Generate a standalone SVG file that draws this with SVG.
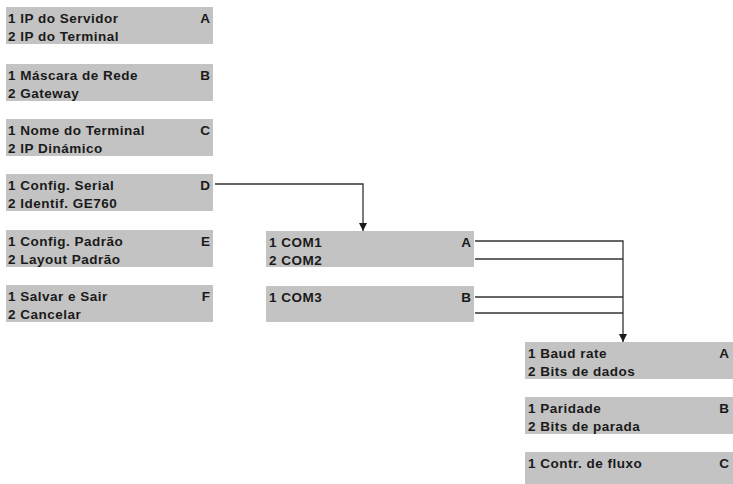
<svg xmlns="http://www.w3.org/2000/svg" width="733" height="484" viewBox="0 0 733 484">
<defs>
<style>
.box{fill:#c3c3c3}
.t{font-family:"Liberation Sans",Arial,sans-serif;font-weight:bold;font-size:13.5px;letter-spacing:0.5px;fill:#1a1a1a}
.k{font-family:"Liberation Sans",Arial,sans-serif;font-weight:bold;font-size:13.5px;fill:#1a1a1a;text-anchor:end}
.c{fill:none;stroke:#333;stroke-width:1.3}
</style>
<marker id="ah" viewBox="0 0 10 10" refX="10" refY="5" markerWidth="8" markerHeight="8" markerUnits="userSpaceOnUse" orient="auto">
<path d="M0,0 L10,5 L0,10 z" fill="#1a1a1a"/>
</marker>
</defs>
<rect width="733" height="484" fill="#fff"/>
<g id="menuA"><rect class="box" x="6" y="7" width="207" height="37"/><text class="t" x="8" y="23">1 IP do Servidor</text><text class="t" x="8" y="41">2 IP do Terminal</text><text class="k" x="210" y="23">A</text></g>
<g id="menuB"><rect class="box" x="6" y="64" width="207" height="37"/><text class="t" x="8" y="80">1 Máscara de Rede</text><text class="t" x="8" y="98">2 Gateway</text><text class="k" x="210" y="80">B</text></g>
<g id="menuC"><rect class="box" x="6" y="119" width="207" height="37"/><text class="t" x="8" y="135">1 Nome do Terminal</text><text class="t" x="8" y="153">2 IP Dinámico</text><text class="k" x="210" y="135">C</text></g>
<g id="menuD"><rect class="box" x="6" y="174" width="207" height="37"/><text class="t" x="8" y="190">1 Config. Serial</text><text class="t" x="8" y="208">2 Identif. GE760</text><text class="k" x="210" y="190">D</text></g>
<g id="menuE"><rect class="box" x="6" y="230" width="207" height="37"/><text class="t" x="8" y="246">1 Config. Padrão</text><text class="t" x="8" y="264">2 Layout Padrão</text><text class="k" x="210" y="246">E</text></g>
<g id="menuF"><rect class="box" x="6" y="285" width="207" height="37"/><text class="t" x="8" y="301">1 Salvar e Sair</text><text class="t" x="8" y="319">2 Cancelar</text><text class="k" x="210" y="301">F</text></g>
<g id="comA"><rect class="box" x="266" y="231" width="208" height="36"/><text class="t" x="269" y="247">1 COM1</text><text class="t" x="269" y="265">2 COM2</text><text class="k" x="471" y="247">A</text></g>
<g id="comB"><rect class="box" x="266" y="286" width="208" height="36"/><text class="t" x="269" y="302">1 COM3</text><text class="k" x="471" y="302">B</text></g>
<g id="serA"><rect class="box" x="525" y="342" width="208" height="37"/><text class="t" x="528" y="358">1 Baud rate</text><text class="t" x="528" y="376">2 Bits de dados</text><text class="k" x="729" y="358">A</text></g>
<g id="serB"><rect class="box" x="525" y="397" width="208" height="37"/><text class="t" x="528" y="413">1 Paridade</text><text class="t" x="528" y="431">2 Bits de parada</text><text class="k" x="729" y="413">B</text></g>
<g id="serC"><rect class="box" x="525" y="452" width="208" height="37"/><text class="t" x="528" y="468">1 Contr. de fluxo</text><text class="k" x="729" y="468">C</text></g>
<g id="connectors">
<path class="c" d="M215,184 H363 V231" marker-end="url(#ah)"/>
<path class="c" d="M475,241 H623 V342" marker-end="url(#ah)"/>
<path class="c" d="M475,259 H623"/>
<path class="c" d="M475,297 H623"/>
<path class="c" d="M475,313 H623"/>
</g>
</svg>
